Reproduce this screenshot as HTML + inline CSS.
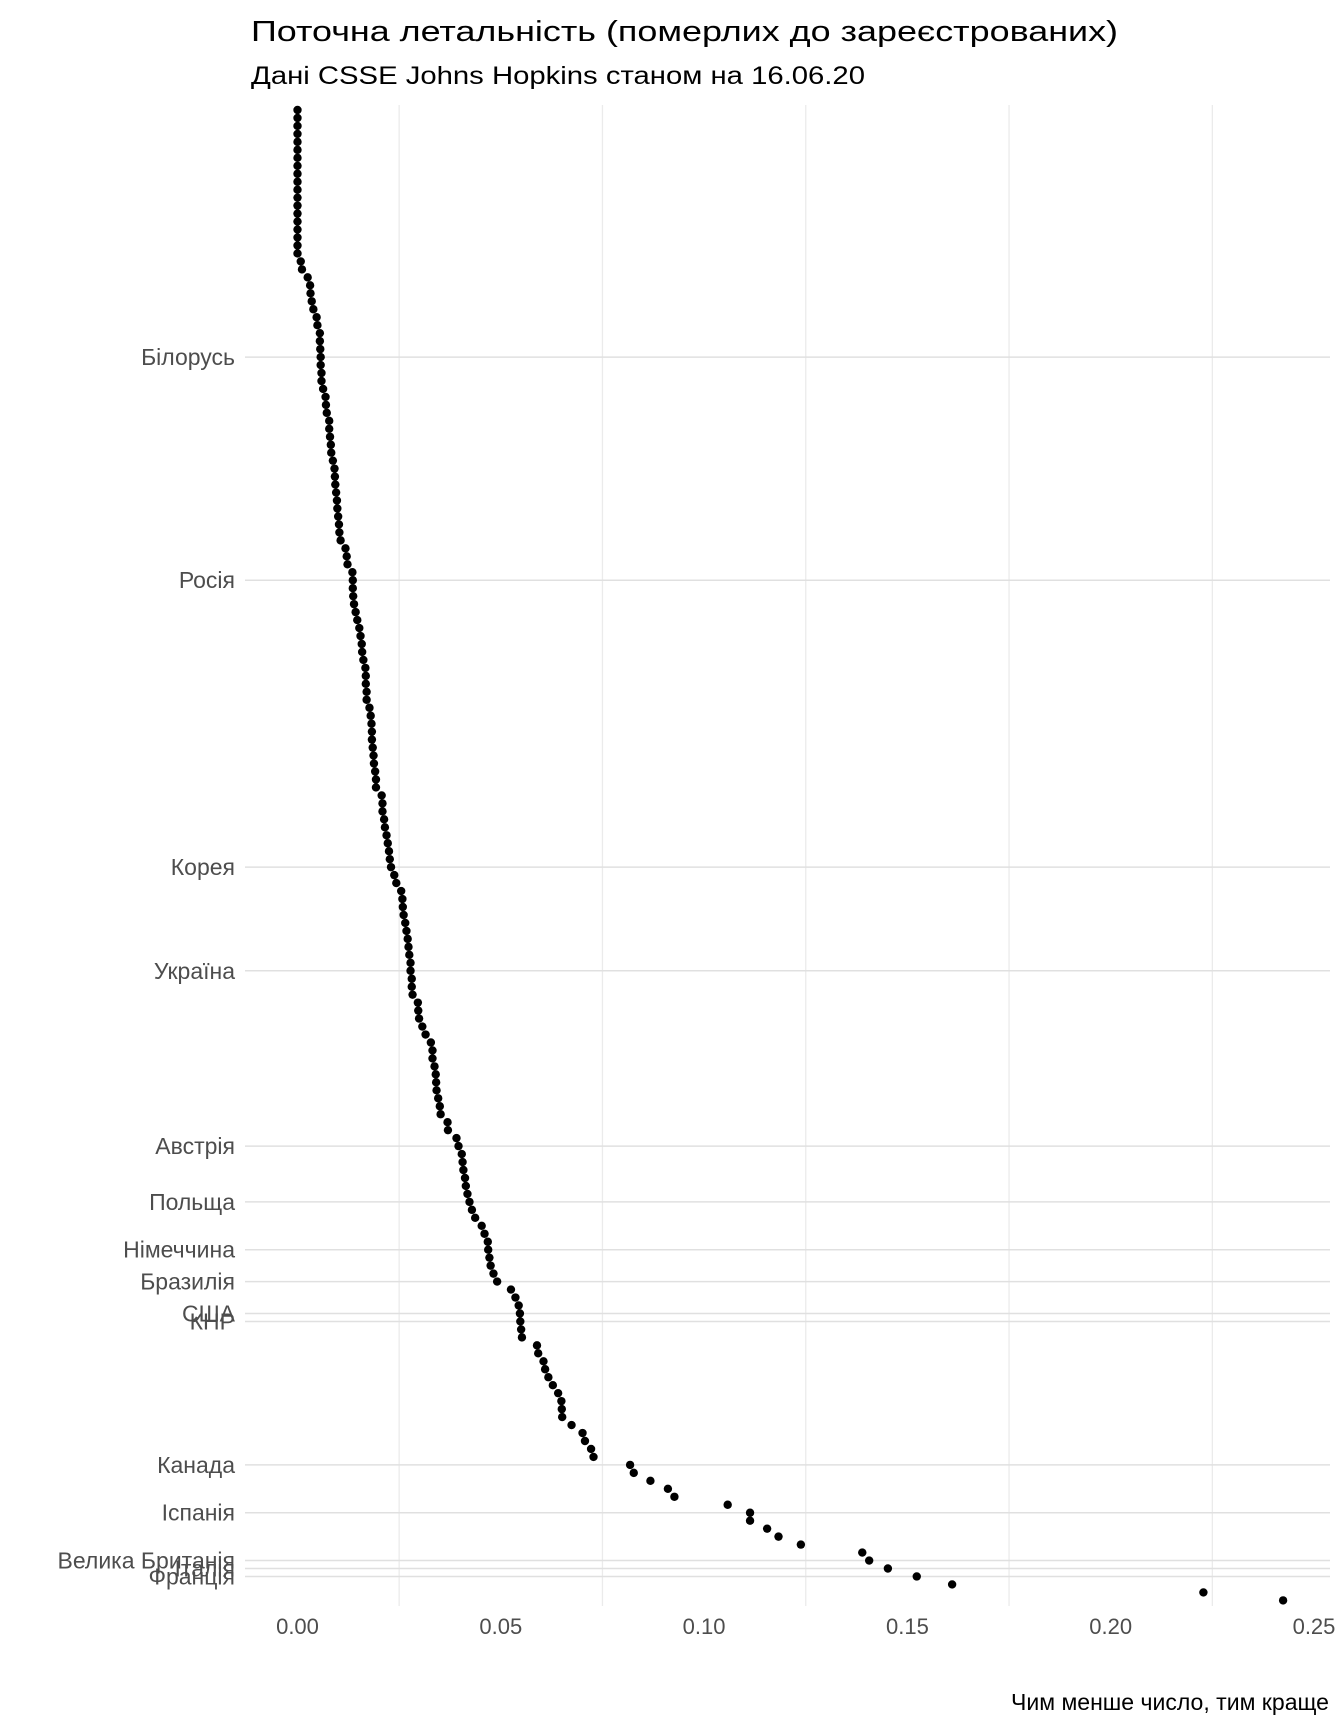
<!DOCTYPE html>
<html><head><meta charset="utf-8"><style>
html,body{margin:0;padding:0;background:#fff;}
svg{display:block;font-family:"Liberation Sans",sans-serif;}
</style></head><body>
<svg id="chart" width="1344" height="1728" viewBox="0 0 1344 1728" xmlns="http://www.w3.org/2000/svg">
<text x="251" y="41" font-size="29" fill="#000" textLength="867" lengthAdjust="spacingAndGlyphs">Поточна летальність (померлих до зареєстрованих)</text>
<text x="251" y="84" font-size="25" fill="#000" textLength="614" lengthAdjust="spacingAndGlyphs">Дані CSSE Johns Hopkins станом на 16.06.20</text>
<g id="grid"></g>
<g id="points"></g>
<g id="ylabels"></g>
<g id="xlabels"></g>
<text x="1329" y="1710" font-size="23" text-anchor="end" fill="#000" textLength="318" lengthAdjust="spacingAndGlyphs">Чим менше число, тим краще</text>
</svg>
<script>
const values = [
0,0,0,0,0,0,0,0,0,0,0,0,0,0,0,0,0,0,0,0.0008,
0.0011,0.0025,0.0031,0.0032,0.0035,0.0039,0.0047,0.0049,0.0055,0.0055,
0.0056,0.0057,0.0057,0.0059,0.0059,0.0063,0.0069,0.0070,0.0072,0.0078,
0.0078,0.0080,0.0082,0.0083,0.0087,0.0091,0.0092,0.0093,0.0095,0.0097,
0.0098,0.0100,0.0102,0.0103,0.0106,0.0118,0.0121,0.0123,0.0135,0.0136,
0.0136,0.0137,0.0139,0.0143,0.0147,0.0152,0.0155,0.0158,0.0159,0.0162,
0.0167,0.0168,0.0168,0.0170,0.0170,0.0177,0.0180,0.0182,0.0183,0.0183,
0.0185,0.0187,0.0188,0.0191,0.0193,0.0193,0.0207,0.0209,0.0209,0.0213,
0.0215,0.0219,0.0222,0.0225,0.0227,0.0230,0.0238,0.0243,0.0255,0.0258,
0.0259,0.0261,0.0265,0.0268,0.0271,0.0273,0.0275,0.0278,0.0278,0.0281,
0.0281,0.0283,0.0296,0.0297,0.0299,0.0307,0.0315,0.0328,0.0332,0.0332,
0.0337,0.0340,0.0341,0.0342,0.0346,0.0350,0.0352,0.0369,0.0370,0.0391,
0.0396,0.0404,0.0406,0.0408,0.0412,0.0414,0.0418,0.0423,0.0429,0.0437,
0.0453,0.0460,0.0468,0.0469,0.0472,0.0475,0.0482,0.0491,0.0525,0.0536,
0.0544,0.0547,0.0548,0.0550,0.0552,0.0589,0.0592,0.0605,0.0609,0.0617,
0.0628,0.0641,0.0649,0.0650,0.0651,0.0674,0.0701,0.0707,0.0722,0.0728,
0.0818,0.0827,0.0868,0.0911,0.0927,0.1058,0.1113,0.1113,0.1155,0.1183,
0.1238,0.1389,0.1406,0.1452,0.1523,0.1610,0.2228,0.2424
];
const labelNames = ["Білорусь","Росія","Корея","Україна","Австрія","Польща","Німеччина","Бразилія","США","КНР","Канада","Іспанія","Велика Британія","Італія","Франція"];
const labelIndex = [31,59,95,108,130,137,143,147,151,152,170,176,182,183,184];
const xTicks = [0,0.05,0.10,0.15,0.20,0.25];
const xTickLabels = ["0.00","0.05","0.10","0.15","0.20","0.25"];
const xMinor = [0.025,0.075,0.125,0.175,0.225];

const NS="http://www.w3.org/2000/svg";
const X0=297.5, XS=4066, Y0=110, YS=7.97;
const panelL=245, panelR=1330, panelT=105, panelB=1606;
function xs(v){return X0+v*XS;}
function ys(i){return Y0+i*YS;}
function mk(tag,attrs,parent){const e=document.createElementNS(NS,tag);for(const k in attrs)e.setAttribute(k,attrs[k]);parent.appendChild(e);return e;}
const grid=document.getElementById('grid'), pts=document.getElementById('points'), yl=document.getElementById('ylabels'), xl=document.getElementById('xlabels');
xMinor.forEach(v=>{
  const l=mk('line',{x1:xs(v),x2:xs(v),y1:panelT,y2:panelB,stroke:'#ebebeb','stroke-width':1.3},grid);
  
  
});
labelIndex.forEach((idx,k)=>{
  const y=ys(idx);
  const l=mk('line',{x1:panelL,x2:panelR,y1:y,y2:y,stroke:'#e0e0e0','stroke-width':1.5},grid);
  
  
  const t=mk('text',{x:235,y:y+8,'font-size':23,'text-anchor':'end',fill:'#4d4d4d'},yl);
  t.textContent=labelNames[k];
  
  
});
values.forEach((v,i)=>{
  const c=mk('circle',{cx:xs(v),cy:ys(i),r:4.2,fill:'#000'},pts);
  
  
});
xTicks.forEach((v,k)=>{
  const t=mk('text',{x:xs(v),y:1634,'font-size':22,'text-anchor':'middle',fill:'#4d4d4d'},xl);
  t.textContent=xTickLabels[k];
  
  
});
</script>
</body></html>
